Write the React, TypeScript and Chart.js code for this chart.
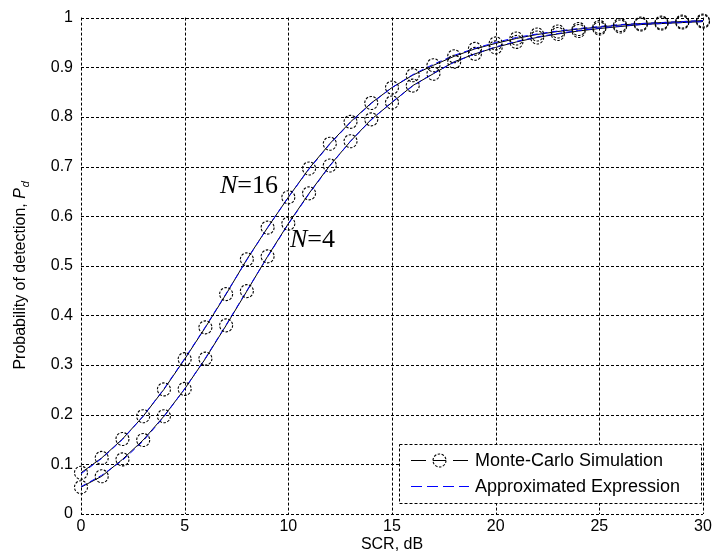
import { useEffect, useRef } from "react";
import { Chart, registerables } from "chart.js";

Chart.register(...registerables);

const scr = [0, 1, 2, 3, 4, 5, 6, 7, 8, 9, 10, 11, 12, 13, 14, 15, 16, 17, 18, 19, 20, 21, 22, 23, 24, 25, 26, 27, 28, 29, 30];
const mc16 = [0.083, 0.113, 0.151, 0.197, 0.251, 0.312, 0.376, 0.443, 0.513, 0.577, 0.638, 0.696, 0.746, 0.79, 0.828, 0.859, 0.884, 0.904, 0.922, 0.937, 0.948, 0.958, 0.966, 0.972, 0.977, 0.981, 0.985, 0.988, 0.99, 0.992, 0.994];
const mc4 = [0.054, 0.076, 0.11, 0.149, 0.197, 0.252, 0.313, 0.38, 0.449, 0.519, 0.585, 0.646, 0.702, 0.751, 0.795, 0.829, 0.863, 0.887, 0.911, 0.927, 0.94, 0.951, 0.96, 0.967, 0.973, 0.978, 0.982, 0.986, 0.988, 0.99, 0.992];
const approx16 = [0.081, 0.112, 0.15, 0.197, 0.252, 0.313, 0.377, 0.444, 0.512, 0.577, 0.638, 0.695, 0.745, 0.789, 0.827, 0.859, 0.885, 0.906, 0.924, 0.938, 0.95, 0.96, 0.967, 0.973, 0.978, 0.982, 0.986, 0.988, 0.99, 0.992, 0.994];
const approx4 = [0.055, 0.078, 0.108, 0.147, 0.196, 0.252, 0.314, 0.381, 0.45, 0.518, 0.584, 0.645, 0.701, 0.751, 0.794, 0.83, 0.862, 0.888, 0.91, 0.927, 0.941, 0.952, 0.961, 0.968, 0.974, 0.979, 0.983, 0.986, 0.988, 0.99, 0.992];

const xTicks = [0, 5, 10, 15, 20, 25, 30];
const yTicks = [0, 0.1, 0.2, 0.3, 0.4, 0.5, 0.6, 0.7, 0.8, 0.9, 1];
const legendLabels = ["Monte-Carlo Simulation", "Approximated Expression"];
const annotations = [
  { n: "16", x: 6.7, y: 0.646 },
  { n: "4", x: 10.08, y: 0.537 },
];

const SANS = "'Liberation Sans', Arial, sans-serif";
const SERIF = "'Liberation Serif', 'Times New Roman', serif";

function drawMarker(ctx: CanvasRenderingContext2D, x: number, y: number) {
  ctx.save();
  ctx.setLineDash([2.5, 1.5]);
  ctx.strokeStyle = "#000";
  ctx.lineWidth = 1.1;
  ctx.beginPath();
  ctx.arc(x, y, 6.5, 0, Math.PI * 2);
  ctx.stroke();
  ctx.restore();
}

const pairs = (ys: number[]) => scr.map((x, i) => ({ x, y: ys[i] }));

export default function App() {
  const ref = useRef<HTMLCanvasElement | null>(null);

  useEffect(() => {
    if (!ref.current) return;

    const gridPlugin = {
      id: "dashGrid",
      beforeDatasetsDraw(chart: any) {
        const ctx = chart.ctx as CanvasRenderingContext2D;
        const xs = chart.scales.x;
        const ys = chart.scales.y;
        const a = chart.chartArea;
        ctx.save();
        ctx.strokeStyle = "#000";
        ctx.lineWidth = 1;
        ctx.setLineDash([3, 2]);
        ctx.beginPath();
        for (const v of xTicks) {
          const px = Math.round(xs.getPixelForValue(v)) + 0.5;
          ctx.moveTo(px, a.top);
          ctx.lineTo(px, a.bottom);
        }
        for (const v of yTicks) {
          const py = Math.round(ys.getPixelForValue(v)) + 0.5;
          ctx.moveTo(a.left, py);
          ctx.lineTo(a.right, py);
        }
        ctx.stroke();
        ctx.restore();
      },
    };

    const markerPlugin = {
      id: "markers",
      afterDatasetsDraw(chart: any) {
        const ctx = chart.ctx as CanvasRenderingContext2D;
        chart.data.datasets.forEach((ds: any, i: number) => {
          if (!ds.mcMarkers) return;
          const meta = chart.getDatasetMeta(i);
          meta.data.forEach((pt: any) => drawMarker(ctx, pt.x, pt.y));
        });
      },
    };

    const overlay = {
      id: "overlay",
      afterDraw(chart: any) {
        const ctx = chart.ctx as CanvasRenderingContext2D;
        const xs = chart.scales.x;
        const ys = chart.scales.y;
        const area = chart.chartArea;
        ctx.save();

        // annotations
        ctx.fillStyle = "#000";
        ctx.textBaseline = "alphabetic";
        ctx.textAlign = "left";
        for (const a of annotations) {
          const px = xs.getPixelForValue(a.x);
          const py = ys.getPixelForValue(a.y);
          ctx.font = `italic 26px ${SERIF}`;
          ctx.fillText("N", px, py);
          const w = ctx.measureText("N").width;
          ctx.font = `26px ${SERIF}`;
          ctx.fillText("=" + a.n, px + w, py);
        }

        // x title
        ctx.font = `16px ${SANS}`;
        ctx.textAlign = "center";
        ctx.fillText("SCR, dB", (area.left + area.right) / 2, 549);

        // y title
        ctx.save();
        ctx.translate(25, (area.top + area.bottom) / 2 + 10);
        ctx.rotate(-Math.PI / 2);
        ctx.textAlign = "left";
        const t1 = "Probability of detection, ";
        ctx.font = `16px ${SANS}`;
        const w1 = ctx.measureText(t1).width;
        ctx.font = `italic 16px ${SANS}`;
        const w2 = ctx.measureText("P").width;
        ctx.font = `italic 11px ${SANS}`;
        const w3 = ctx.measureText("d").width;
        const total = w1 + w2 + w3;
        let cx = -total / 2;
        ctx.font = `16px ${SANS}`;
        ctx.fillText(t1, cx, 0);
        cx += w1;
        ctx.font = `italic 16px ${SANS}`;
        ctx.fillText("P", cx, 0);
        cx += w2;
        ctx.font = `italic 11px ${SANS}`;
        ctx.fillText("d", cx + 1, 4);
        ctx.restore();

        // legend
        const lx = 399, ly = 444, lw = 302, lh = 59;
        ctx.fillStyle = "#fff";
        ctx.fillRect(lx, ly, lw, lh);
        ctx.setLineDash([3, 2]);
        ctx.strokeStyle = "#000";
        ctx.lineWidth = 1;
        ctx.strokeRect(lx + 0.5, ly + 0.5, lw, lh);
        const r1 = 460.5, r2 = 486.5;
        ctx.setLineDash([]);
        ctx.beginPath();
        ctx.moveTo(411, r1);
        ctx.lineTo(426, r1);
        ctx.moveTo(453, r1);
        ctx.lineTo(468, r1);
        ctx.moveTo(433, r1);
        ctx.lineTo(446, r1);
        ctx.stroke();
        drawMarker(ctx, 439.5, r1);
        ctx.strokeStyle = "#0000ff";
        ctx.setLineDash([11, 5]);
        ctx.beginPath();
        ctx.moveTo(411, r2);
        ctx.lineTo(469, r2);
        ctx.stroke();
        ctx.setLineDash([]);
        ctx.fillStyle = "#000";
        ctx.font = `18px ${SANS}`;
        ctx.textAlign = "left";
        ctx.textBaseline = "middle";
        ctx.fillText(legendLabels[0], 475, r1 + 1);
        ctx.fillText(legendLabels[1], 475, r2 + 1);

        ctx.restore();
      },
    };

    const chart = new Chart(ref.current, {
      type: "line",
      data: {
        datasets: [
          {
            label: "N=16 approx",
            data: pairs(approx16),
            borderColor: "#0000ff",
            borderWidth: 1,
            borderDash: [6, 4],
            pointRadius: 0,
            fill: false,
            order: 0,
          },
          {
            label: "N=4 approx",
            data: pairs(approx4),
            borderColor: "#0000ff",
            borderWidth: 1,
            borderDash: [6, 4],
            pointRadius: 0,
            fill: false,
            order: 0,
          },
          {
            label: "N=16 MC",
            data: pairs(mc16),
            borderColor: "#000",
            borderWidth: 1,
            pointRadius: 0,
            fill: false,
            order: 1,
            mcMarkers: true,
          },
          {
            label: "N=4 MC",
            data: pairs(mc4),
            borderColor: "#000",
            borderWidth: 1,
            pointRadius: 0,
            fill: false,
            order: 1,
            mcMarkers: true,
          },
        ],
      },
      options: {
        animation: false,
        responsive: false,
        maintainAspectRatio: false,
        layout: { padding: { top: 17, right: 13, left: 0, bottom: 0 } },
        plugins: {
          legend: { display: false },
          tooltip: { enabled: false },
        },
        scales: {
          x: {
            type: "linear",
            min: 0,
            max: 30,
            afterFit: (s: any) => {
              s.height = 46;
            },
            afterBuildTicks: (s: any) => {
              s.ticks = xTicks.map((v) => ({ value: v }));
            },
            grid: { display: false, drawTicks: false },
            border: { display: false },
            ticks: {
              color: "#000",
              font: { family: SANS, size: 16 },
              padding: 3,
              maxRotation: 0,
              callback: (v: any) => String(v),
            },
          },
          y: {
            type: "linear",
            min: 0,
            max: 1,
            afterFit: (s: any) => {
              s.width = 81;
            },
            afterBuildTicks: (s: any) => {
              s.ticks = yTicks.map((v) => ({ value: v }));
            },
            grid: { display: false, drawTicks: false },
            border: { display: false },
            ticks: {
              color: "#000",
              font: { family: SANS, size: 16 },
              padding: 8,
              callback: (v: any) => {
                const n = Number(v);
                if (Math.abs(n) < 1e-9) return "0";
                if (Math.abs(n - 1) < 1e-9) return "1";
                return n.toFixed(1);
              },
            },
          },
        },
      },
      plugins: [gridPlugin, markerPlugin, overlay],
    } as any);

    return () => chart.destroy();
  }, []);

  return (
    <div style={{ position: "fixed", left: 0, top: 0, width: 716, height: 560, background: "#fff" }}>
      <canvas ref={ref} width={716} height={560} style={{ width: 716, height: 560, display: "block" }} />
    </div>
  );
}
